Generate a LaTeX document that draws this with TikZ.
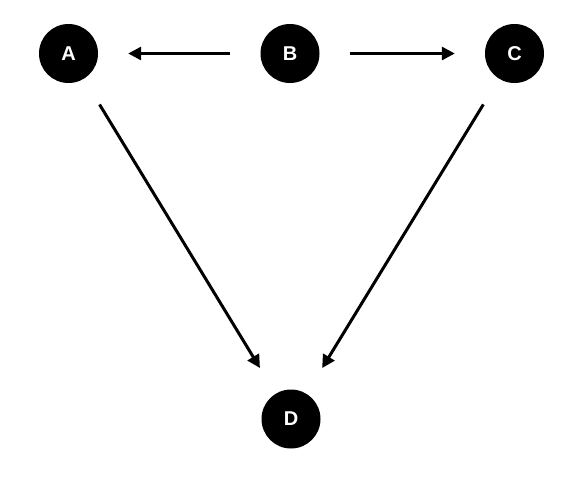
\documentclass[tikz,border=0pt]{standalone}
\usepackage{fontspec}
\setmainfont{Liberation Sans}
\usetikzlibrary{arrows.meta}
\begin{document}
\begin{tikzpicture}[x=1pt,y=-1pt,
  vertex/.style={circle,fill=black,draw=none,minimum size=59pt,inner sep=0pt,
    text=white,font=\fontsize{20}{20}\selectfont\bfseries},
  edge/.style={line width=3pt,-{Triangle[length=13pt,width=13pt]},shorten <=30pt,shorten >=30pt}]
\useasboundingbox (0,0) rectangle (576,480);
\node[vertex] (A) at (68.5,53.5) {A};
\node[vertex] (B) at (290,53.5) {B};
\node[vertex] (C) at (514.5,53.5) {C};
\node[vertex] (D) at (291,419) {D};
\draw[edge] (B) -- (A);
\draw[edge] (B) -- (C);
\draw[edge] (A) -- (D);
\draw[edge] (C) -- (D);
\end{tikzpicture}
\end{document}
